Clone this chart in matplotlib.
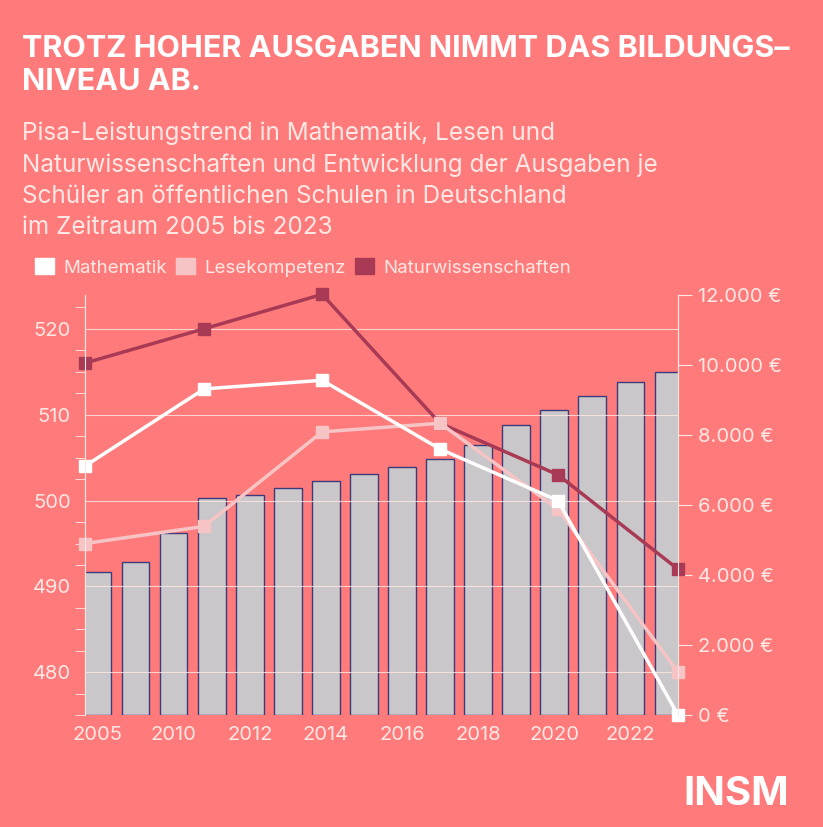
import numpy as np
import matplotlib.pyplot as plt
from matplotlib.ticker import MultipleLocator, FuncFormatter
from matplotlib.patches import Patch

# Ausgaben je Schueler (Balken, rechte Achse)
ausgaben = [4086, 4371, 5200, 6200, 6286, 6486, 6686, 6886, 7086, 7314,
            7714, 8286, 8714, 9114, 9514, 9800]
x_labels = ['2005', '2010', '2012', '2014', '2016', '2018', '2020', '2022']

# Pisa-Werte (Linien, linke Achse), Positionen in Balkeneinheiten
pisa_x = [-0.34, 2.8, 5.9, 9.0, 12.1, 15.26]
mathe = [504, 513, 514, 506, 500, 475]
lesen = [495, 497, 508, 509, 499, 480]
natur = [516, 520, 524, 509, 503, 492]

bg = '#FF7B7B'
fg = '#FFE8E4'
plt.rcParams['font.family'] = ['Inter', 'DejaVu Sans']

fig = plt.figure(figsize=(8.23, 8.27), dpi=100, facecolor=bg)
fig.text(0.027, 0.958, 'TROTZ HOHER AUSGABEN NIMMT DAS BILDUNGS–\nNIVEAU AB.',
         color='white', fontsize=22, fontweight='bold', va='top', linespacing=1.25)
fig.text(0.027, 0.853, 'Pisa-Leistungstrend in Mathematik, Lesen und\n'
         'Naturwissenschaften und Entwicklung der Ausgaben je\n'
         'Schüler an öffentlichen Schulen in Deutschland\n'
         'im Zeitraum 2005 bis 2023',
         color=fg, fontsize=17.5, va='top', linespacing=1.45)
fig.text(0.83, 0.027, 'INSM', color='white', fontsize=29, fontweight='bold')

ax = fig.add_axes([0.103, 0.135, 0.721, 0.508])
ax.set_facecolor(bg)
ax2 = ax.twinx()
ax.set_zorder(2)
ax.patch.set_visible(False)

idx = np.arange(len(ausgaben))
ax2.bar(idx, ausgaben, width=0.72, color='#C9C7C9', edgecolor='#3D3A7A', linewidth=1)
ax2.set_ylim(0, 12000)
ax2.yaxis.set_major_locator(MultipleLocator(2000))
ax2.yaxis.set_major_formatter(FuncFormatter(lambda v, p: f'{int(v):,} €'.replace(',', '.')))

ax.set_xlim(-0.34, 15.26)
ax.set_ylim(475, 523.9)
ax.set_yticks([480, 490, 500, 510, 520])
ax.yaxis.set_minor_locator(MultipleLocator(2.5))
ax.grid(axis='y', color=fg, linewidth=0.8, alpha=0.8)
ax.set_xticks(np.arange(0, 16, 2))
ax.set_xticklabels(x_labels)

ax.plot(pisa_x, natur, color='#A83A55', lw=2.5, marker='s', ms=8, clip_on=False)
ax.plot(pisa_x, lesen, color='#F7C4C6', lw=2.5, marker='s', ms=8, clip_on=False)
ax.plot(pisa_x, mathe, color='white', lw=2.5, marker='s', ms=8, clip_on=False)

for a in (ax, ax2):
    for s in ('top', 'bottom'):
        a.spines[s].set_visible(False)
    a.spines['left'].set_color(fg)
    a.spines['right'].set_color(fg)
    a.tick_params(colors=fg, labelsize=14.5, which='both')
ax.tick_params(axis='y', which='major', length=0, pad=10)
ax.tick_params(axis='y', which='minor', length=7)
ax.tick_params(axis='x', length=0, pad=8)
ax2.tick_params(axis='y', length=10, pad=4)

handles = [Patch(color=c) for c in ('white', '#F7C4C6', '#A83A55')]
fig.legend(handles, ['Mathematik', 'Lesekompetenz', 'Naturwissenschaften'],
           loc='center left', bbox_to_anchor=(0.022, 0.677), ncol=3, frameon=False,
           fontsize=13.5, labelcolor=fg, handlelength=1.0, handleheight=1.0,
           handletextpad=0.5, columnspacing=0.5)

fig.savefig('out.png', dpi=100, facecolor=bg)
